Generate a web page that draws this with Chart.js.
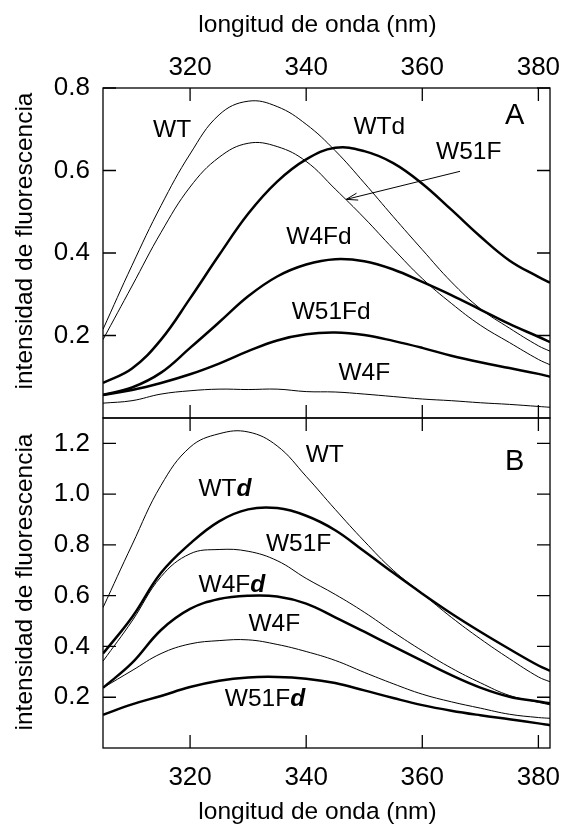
<!DOCTYPE html>
<html>
<head>
<meta charset="utf-8">
<script src="https://cdn.jsdelivr.net/npm/chart.js@4.4.0/dist/chart.umd.min.js"></script>
<style>
  html, body { margin: 0; padding: 0; background: #fff; }
  #wrap { position: relative; width: 565px; height: 829px; }
  canvas { position: absolute; left: 0; top: 0; }
</style>
</head>
<body>
<div id="wrap">
  <canvas id="chartA" width="565" height="829"></canvas>
  <canvas id="chartB" width="565" height="829"></canvas>
</div>
<script>
// data: wavelengths (nm) shared by every curve
const wavelengths = [305, 310, 315, 320, 325, 330, 335, 340, 345, 350, 355, 360, 365, 370, 375, 380, 382];

// panel A
const wtA     = [0.215, 0.37, 0.515, 0.64, 0.735, 0.768, 0.755, 0.712, 0.648, 0.57, 0.488, 0.408, 0.33, 0.265, 0.218, 0.175, 0.162];
const w51fA   = [0.19, 0.32, 0.45, 0.56, 0.632, 0.666, 0.658, 0.622, 0.555, 0.485, 0.41, 0.338, 0.278, 0.225, 0.183, 0.142, 0.129];
const wtdA    = [0.085, 0.12, 0.19, 0.29, 0.395, 0.495, 0.573, 0.627, 0.655, 0.647, 0.618, 0.568, 0.505, 0.44, 0.382, 0.342, 0.328];
const w4fdA   = [0.056, 0.074, 0.11, 0.17, 0.232, 0.295, 0.343, 0.372, 0.385, 0.38, 0.36, 0.33, 0.298, 0.263, 0.228, 0.197, 0.184];
const w51fdA  = [0.056, 0.068, 0.085, 0.106, 0.132, 0.162, 0.188, 0.203, 0.207, 0.201, 0.187, 0.17, 0.151, 0.135, 0.121, 0.107, 0.1];
const w4fA    = [0.036, 0.042, 0.058, 0.066, 0.07, 0.069, 0.07, 0.064, 0.063, 0.058, 0.052, 0.046, 0.042, 0.037, 0.033, 0.028, 0.026];

// panel B
const wtB     = [0.553, 0.80, 1.035, 1.185, 1.238, 1.245, 1.19, 1.07, 0.94, 0.815, 0.70, 0.608, 0.515, 0.43, 0.352, 0.28, 0.261];
const wtdB    = [0.372, 0.515, 0.69, 0.805, 0.893, 0.94, 0.945, 0.915, 0.858, 0.775, 0.69, 0.608, 0.53, 0.458, 0.39, 0.325, 0.304];
const w51fB   = [0.342, 0.50, 0.675, 0.765, 0.782, 0.775, 0.738, 0.668, 0.605, 0.535, 0.457, 0.383, 0.315, 0.257, 0.207, 0.18, 0.17];
const w4fdB   = [0.237, 0.335, 0.465, 0.548, 0.587, 0.60, 0.597, 0.569, 0.515, 0.458, 0.40, 0.343, 0.287, 0.238, 0.202, 0.183, 0.176];
const w4fB    = [0.237, 0.305, 0.372, 0.41, 0.423, 0.426, 0.408, 0.38, 0.345, 0.298, 0.253, 0.212, 0.182, 0.157, 0.133, 0.12, 0.117];
const w51fdB  = [0.131, 0.172, 0.205, 0.24, 0.265, 0.278, 0.28, 0.273, 0.256, 0.227, 0.197, 0.169, 0.147, 0.129, 0.113, 0.097, 0.09];

// axes
const xMin = 305, xMax = 382;
const xTicks = [320, 340, 360, 380];
const yTicksA = [0.2, 0.4, 0.6, 0.8];
const yTicksB = [0.2, 0.4, 0.6, 0.8, 1.0, 1.2];
const yMaxA = 0.8, yMaxB = 1.3;

// curve labels (data units)
const labelsA = [
  { text: 'WT', x: 316.9, y: 0.697 },
  { text: 'WTd', x: 352.6, y: 0.704 },
  { text: 'W51F', x: 368.0, y: 0.644 },
  { text: 'W4Fd', x: 342.2, y: 0.438 },
  { text: 'W51Fd', x: 344.3, y: 0.256 },
  { text: 'W4F', x: 350.0, y: 0.109 }
];
const labelsB = [
  { text: 'WT', x: 343.2, y: 1.155 },
  { text: 'WT', suffix: 'd', x: 326.0, y: 1.02 },
  { text: 'W51F', x: 338.7, y: 0.803 },
  { text: 'W4F', suffix: 'd', x: 327.2, y: 0.642 },
  { text: 'W4F', x: 334.5, y: 0.487 },
  { text: 'W51F', suffix: 'd', x: 332.9, y: 0.194 }
];
const arrowA = { from: [366.5, 0.598], to: [346.9, 0.530] };

const FONT = '"Liberation Sans", Arial, sans-serif';
const TICK = 13;

function drawLabel(ctx, lab, xs, ys, size) {
  const px = xs.getPixelForValue(lab.x), py = ys.getPixelForValue(lab.y);
  const fBase = size + 'px ' + FONT;
  const fSuf = 'italic bold ' + size + 'px ' + FONT;
  ctx.font = fBase;
  const w1 = ctx.measureText(lab.text).width;
  let w2 = 0;
  if (lab.suffix) { ctx.font = fSuf; w2 = ctx.measureText(lab.suffix).width; }
  const x0 = px - (w1 + w2) / 2;
  ctx.textAlign = 'left';
  ctx.textBaseline = 'middle';
  ctx.font = fBase;
  ctx.fillText(lab.text, x0, py);
  if (lab.suffix) { ctx.font = fSuf; ctx.fillText(lab.suffix, x0 + w1, py); }
}

function framePlugin(panel) {
  return {
    id: 'frame' + panel.name,
    afterDraw(chart) {
      const ctx = chart.ctx, a = chart.chartArea;
      const xs = chart.scales.x, ys = chart.scales.y;
      ctx.save();
      ctx.strokeStyle = '#000';
      ctx.fillStyle = '#000';
      ctx.lineWidth = 1.3;
      ctx.strokeRect(a.left, a.top, a.right - a.left, a.bottom - a.top);

      // inward ticks on all four sides
      ctx.beginPath();
      xTicks.forEach(v => {
        const px = xs.getPixelForValue(v);
        ctx.moveTo(px, a.top); ctx.lineTo(px, a.top + TICK);
        ctx.moveTo(px, a.bottom); ctx.lineTo(px, a.bottom - TICK);
      });
      panel.yTicks.forEach(v => {
        const py = ys.getPixelForValue(v);
        ctx.moveTo(a.left, py); ctx.lineTo(a.left + TICK, py);
        ctx.moveTo(a.right, py); ctx.lineTo(a.right - TICK, py);
      });
      ctx.stroke();

      // tick labels
      ctx.font = '26px ' + FONT;
      ctx.textAlign = 'right';
      ctx.textBaseline = 'middle';
      panel.yTicks.forEach(v => {
        ctx.fillText(v.toFixed(1), a.left - 13, ys.getPixelForValue(v));
      });
      ctx.textAlign = 'center';
      xTicks.forEach(v => {
        ctx.fillText(String(v), xs.getPixelForValue(v), panel.xLabelY);
      });

      // axis titles
      ctx.font = '24.5px ' + FONT;
      ctx.fillText('longitud de onda (nm)', 317.5, panel.xTitleY);
      ctx.save();
      ctx.translate(25, panel.yTitleY);
      ctx.rotate(-Math.PI / 2);
      ctx.fillText('intensidad de fluorescencia', 0, 0);
      ctx.restore();

      // curve labels and panel letter
      panel.labels.forEach(l => drawLabel(ctx, l, xs, ys, 24.5));
      ctx.font = '29px ' + FONT;
      ctx.textAlign = 'center';
      ctx.fillText(panel.letter, xs.getPixelForValue(375.9), ys.getPixelForValue(panel.letterY));

      // arrow
      if (panel.arrow) {
        const x1 = xs.getPixelForValue(panel.arrow.from[0]), y1 = ys.getPixelForValue(panel.arrow.from[1]);
        const x2 = xs.getPixelForValue(panel.arrow.to[0]), y2 = ys.getPixelForValue(panel.arrow.to[1]);
        const ang = Math.atan2(y2 - y1, x2 - x1);
        ctx.lineWidth = 1;
        ctx.beginPath();
        ctx.moveTo(x1, y1); ctx.lineTo(x2, y2);
        ctx.moveTo(x2 - 12 * Math.cos(ang - 0.3), y2 - 12 * Math.sin(ang - 0.3));
        ctx.lineTo(x2, y2);
        ctx.lineTo(x2 - 12 * Math.cos(ang + 0.3), y2 - 12 * Math.sin(ang + 0.3));
        ctx.stroke();
      }
      ctx.restore();
    }
  };
}

function makeChart(id, series, yMax, pad, panel) {
  return new Chart(document.getElementById(id), {
    type: 'line',
    data: {
      datasets: series.map(s => ({
        data: wavelengths.map((w, i) => ({ x: w, y: s.values[i] })),
        borderColor: '#000',
        borderWidth: s.bold ? 2.5 : 1,
        pointRadius: 0,
        fill: false,
        tension: 0.4
      }))
    },
    options: {
      responsive: false,
      animation: false,
      devicePixelRatio: 1,
      layout: { padding: pad },
      plugins: { legend: { display: false }, tooltip: { enabled: false } },
      scales: {
        x: { type: 'linear', min: xMin, max: xMax, display: false },
        y: { type: 'linear', min: 0, max: yMax, display: false }
      }
    },
    plugins: [framePlugin(panel)]
  });
}

makeChart('chartA', [
  { values: wtA }, { values: w51fA }, { values: w4fA },
  { values: wtdA, bold: true }, { values: w4fdA, bold: true }, { values: w51fdA, bold: true }
], yMaxA, { left: 103, right: 15, top: 88, bottom: 411 },
  { name: 'A', yTicks: yTicksA, xLabelY: 68, xTitleY: 25, yTitleY: 241,
    labels: labelsA, letter: 'A', letterY: 0.731, arrow: arrowA });

makeChart('chartB', [
  { values: wtB }, { values: w51fB }, { values: w4fB },
  { values: wtdB, bold: true }, { values: w4fdB, bold: true }, { values: w51fdB, bold: true }
], yMaxB, { left: 103, right: 15, top: 418, bottom: 81 },
  { name: 'B', yTicks: yTicksB, xLabelY: 778, xTitleY: 812, yTitleY: 582,
    labels: labelsB, letter: 'B', letterY: 1.125, arrow: null });
</script>
</body>
</html>
